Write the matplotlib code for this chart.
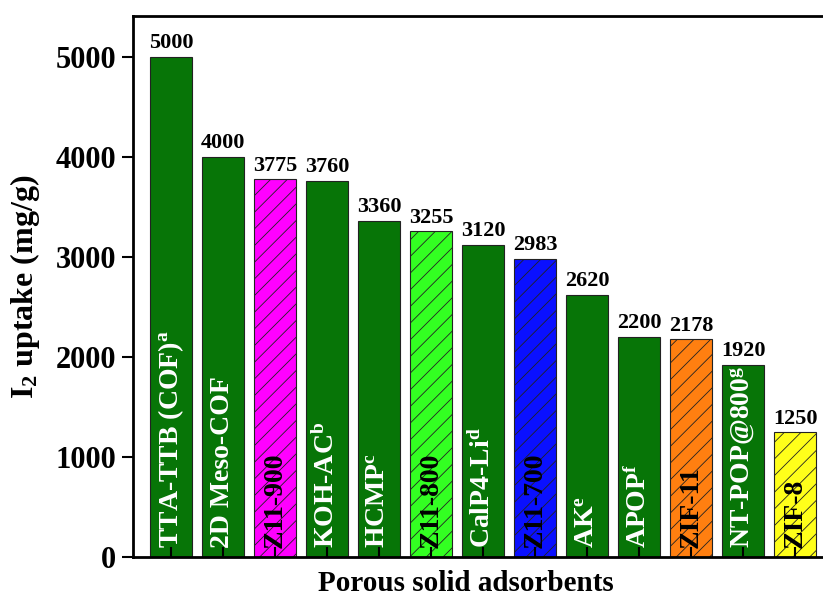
import numpy as np
import matplotlib
matplotlib.use("Agg")
import matplotlib.pyplot as plt

plt.rcParams['font.family'] = ['Liberation Serif', 'DejaVu Serif']
plt.rcParams['font.weight'] = 'bold'
plt.rcParams['mathtext.fontset'] = 'custom'
plt.rcParams['mathtext.rm'] = 'Liberation Serif:bold'
plt.rcParams['mathtext.it'] = 'Liberation Serif:bold'
plt.rcParams['mathtext.bf'] = 'Liberation Serif:bold'
plt.rcParams['hatch.linewidth'] = 0.6

# data
names = [r'TTA-TTB (COF)$^{\rm a}$', '2D Meso-COF', 'Z11-900', r'KOH-AC$^{\rm b}$',
         r'HCMP$^{\rm c}$', 'Z11-800', r'CalP4-Li$^{\rm d}$', 'Z11-700', r'AK$^{\rm e}$',
         r'APOP$^{\rm f}$', 'ZIF-11', r'NT-POP@800$^{\rm g}$', 'ZIF-8']
uptake = [5000, 4000, 3775, 3760, 3360, 3255, 3120, 2983, 2620, 2200, 2178, 1920, 1250]
colors = ['#077507', '#077507', '#ff00ff', '#077507', '#077507', '#33ff22', '#077507',
          '#0a10ff', '#077507', '#077507', '#ff7f10', '#077507', '#ffff1a']
hatched = [False, False, True, False, False, True, False, True, False, False, True, False, True]

fig = plt.figure(figsize=(8.23, 5.99), dpi=100)
ax = fig.add_axes([133/823, 42/599, 700/823, 541/599])

x = np.arange(len(names))
for i in x:
    ax.bar(i, uptake[i], width=0.8, color=colors[i], edgecolor='#222222', linewidth=0.8,
           hatch='//' if hatched[i] else None)
    ax.text(i, uptake[i] + 35, str(uptake[i]), ha='center', va='bottom',
            fontsize=16, fontweight='bold')
    txtcol = 'black' if hatched[i] else 'white'
    ax.text(i, 90, names[i], rotation=90, ha='center', va='bottom',
            fontsize=20, fontweight='bold', color=txtcol)

ax.set_xlim(-0.73, 12.73)
ax.set_ylim(0, 5410)
ax.set_yticks([0, 1000, 2000, 3000, 4000, 5000])
ax.set_xticks(x)
ax.set_xticklabels([])
ax.tick_params(axis='x', direction='in', length=7, width=1.5)
ax.tick_params(axis='y', direction='out', length=8, width=1.5, labelsize=22, pad=4)
for lab in ax.get_yticklabels():
    lab.set_fontweight('bold')
ax.spines['right'].set_visible(False)
for s in ['left', 'bottom', 'top']:
    ax.spines[s].set_linewidth(2)

ax.set_ylabel(r'I$_2$ uptake (mg/g)', fontsize=23, fontweight='bold', labelpad=10)
ax.set_xlabel('Porous solid adsorbents', fontsize=21, fontweight='bold')
ax.xaxis.set_label_coords(0.476, -0.063)
ax.xaxis.label.set_verticalalignment('baseline')

fig.savefig('out.png', dpi=100)
